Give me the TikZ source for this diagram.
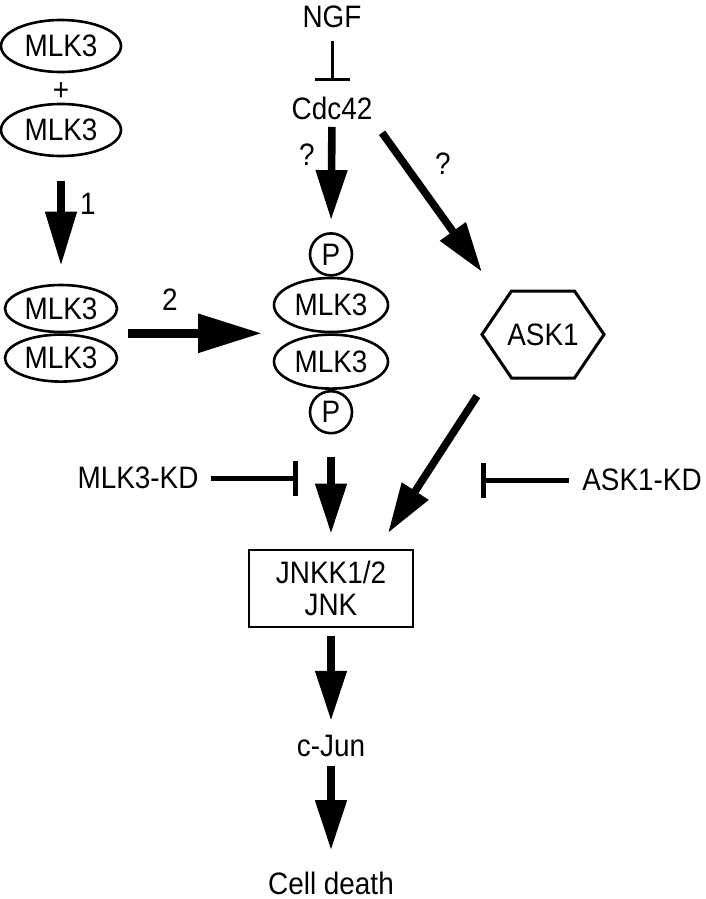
\documentclass[tikz,border=0pt]{standalone}
\usepackage{fontspec}
\setmainfont{Liberation Sans}[FakeStretch=0.9]
\usetikzlibrary{positioning,arrows.meta,shapes.geometric}

\tikzset{
    prot/.style={draw, ellipse, line width=1.3pt, inner sep=0pt,
                 minimum width=60pt, minimum height=26pt},
    phos/.style={draw, circle, line width=1.3pt, inner sep=0pt, minimum size=21pt},
    lbl/.style={inner sep=0pt},
    fat/.style={line width=3.8pt, -{Triangle[length=25pt,width=15pt]}},
    block/.style={line width=2.5pt, -{Bar[width=17.5pt]}},
}

\begin{document}
\begin{tikzpicture}[x=0.5pt, y=-0.5pt, font=\fontsize{15.5}{16}\selectfont]
    \useasboundingbox (0,0) rectangle (706,899);

    \node[prot] (m1) at (61,46) {MLK3};
    \node[lbl] (plus) at (61,92) {+};
    \node[prot] (m2) at (61,130) {MLK3};
    \node[prot, minimum width=56pt, minimum height=23.5pt] (d1) at (61,308.5) {MLK3};
    \node[prot, minimum width=56pt, minimum height=23.5pt, below=0pt of d1] (d2) {MLK3};
    \node[lbl] (n1) at (88,204) {1};
    \node[lbl] (n2) at (170,300) {2};

    \node[lbl] (ngf) at (332,17) {NGF};
    \node[lbl] (cdc) at (332,108) {Cdc42};
    \node[lbl] (q1) at (307,155) {?};
    \node[lbl] (q2) at (443,164) {?};
    \node[prot, minimum width=57pt, minimum height=27pt] (c1) at (331,305) {MLK3};
    \node[prot, minimum width=57pt, minimum height=27pt, below=0pt of c1] (c2) {MLK3};
    \node[phos, above=0pt of c1] (p1) {P};
    \node[phos, below=0pt of c2] (p2) {P};

    \node[lbl] (ask) at (543,334.5) {ASK1};
    \draw[line width=1.5pt, line join=miter] (ask.center) ++(-61,0) -- ++(29.5,-43.5)
        -- ++(63,0) -- ++(29.5,43.5) -- ++(-29.5,43.5) -- ++(-63,0) -- cycle;
    \coordinate (askin) at (482,272);
    \coordinate (askout) at (477,396);
    \coordinate (jin) at (388,533);

    \node[draw, line width=1.3pt, inner sep=0pt, minimum width=82pt, minimum height=38.5pt,
          align=center] (jnk) at (331,588.5) {JNKK1/2\\JNK};
    \node[lbl] (cjun) at (331,746) {c-Jun};
    \node[lbl] (death) at (331,883) {Cell death};

    \node[lbl] (mkd) at (138,478) {MLK3-KD};
    \coordinate (mbar) at (298,478);
    \node[lbl] (akd) at (642,480) {ASK1-KD};
    \coordinate (abar) at (481,480);

    \draw[fat, -{Triangle[length=27pt,width=15pt]}, shorten <=12pt, shorten >=9pt] (m2.south) -- (d1.north);
    \draw[line width=4.5pt, -{Triangle[length=32pt,width=18.5pt]}, shorten <=33.5pt, shorten >=34.5pt]
        (d1.south) -- (c1.south);
    \draw[line width=1.5pt, -{Bar[width=17.5pt]}, shorten <=6.5pt, shorten >=7.5pt] (ngf.south) -- (cdc.north);
    \draw[fat, shorten <=3.5pt, shorten >=6pt] (cdc.south) -- (p1.north);
    \draw[fat, shorten <=8pt] (cdc.south east) -- (askin);
    \draw[fat] (askout) -- (jin);
    \draw[fat, shorten <=11pt, shorten >=7.5pt] (p2.south) -- (jnk.north);
    \draw[block, shorten <=6pt] (mkd.east) -- (mbar);
    \draw[block, shorten <=6.5pt] (akd.west) -- (abar);
    \draw[fat, shorten <=4pt, shorten >=7pt] (jnk.south) -- (cjun.north);
    \draw[fat, shorten <=4.5pt, shorten >=10.5pt] (cjun.south) -- (death.north);
\end{tikzpicture}
\end{document}
